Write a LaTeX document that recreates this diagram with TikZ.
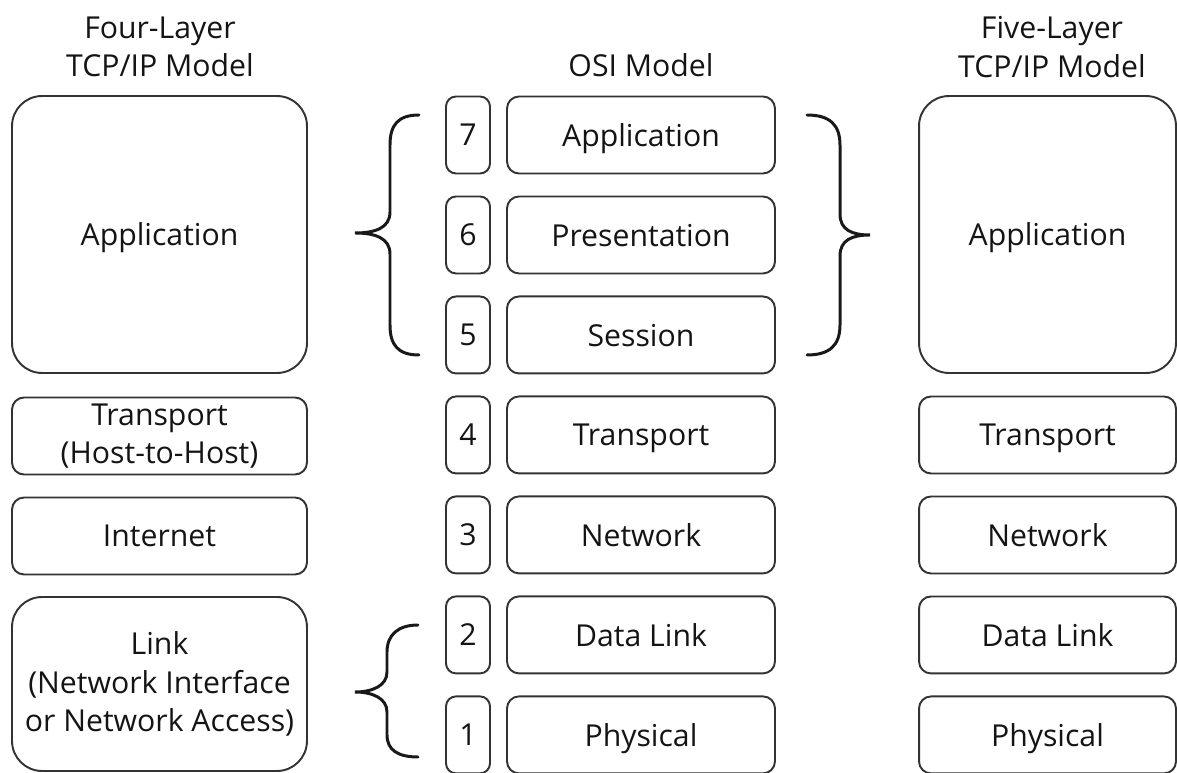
\documentclass[tikz,border=0pt]{standalone}
\usepackage{fontspec}
\setmainfont{Open Sans}
\usetikzlibrary{positioning}

\tikzset{
  layer/.style = {draw=black!80, line width=1.1pt, rounded corners=0.24cm,
                  minimum height=1.54cm, align=center, inner sep=0pt},
  single/.style = {text depth=0pt},
  num/.style   = {layer, single, rounded corners=0.2cm, minimum width=0.88cm},
  osi/.style   = {layer, single, minimum width=5.36cm},
  four/.style  = {layer, minimum width=5.9cm},
  five/.style  = {layer, single, minimum width=5.14cm},
  big/.style   = {rounded corners=0.6cm},
  title/.style = {align=center},
  brace/.style = {draw=black!90, line width=1.7pt, line cap=round},
}

\begin{document}
\begin{tikzpicture} [x=0.02cm, y=-0.02cm, node distance=2cm, on grid,
                     font=\fontsize{17.2}{22}\selectfont, text=black!92]
    \useasboundingbox (0,0) rectangle (1177,773);

    % OSI model
    \node (osititle) [anchor=base] at (641,77) {OSI Model};
    \node (n7) [num] at (468,135) {7};
    \node (n6) [num, below = of n7] {6};
    \node (n5) [num, below = of n6] {5};
    \node (n4) [num, below = of n5] {4};
    \node (n3) [num, below = of n4] {3};
    \node (n2) [num, below = of n3] {2};
    \node (n1) [num, below = of n2] {1};

    \node (osi7) [osi] at (641,135) {Application};
    \node (osi6) [osi, below = of osi7] {Presentation};
    \node (osi5) [osi, below = of osi6] {Session};
    \node (osi4) [osi, below = of osi5] {Transport};
    \node (osi3) [osi, below = of osi4] {Network};
    \node (osi2) [osi, below = of osi3] {Data Link};
    \node (osi1) [osi, below = of osi2] {Physical};

    % four-layer TCP/IP model
    \node (fourtitle) [title] at (160,47) {Four-Layer\\TCP/IP Model};
    \node (fourapp) [four, single, big, minimum height=5.54cm] at (159.5,234.5) {Application};
    \node (fourtrans) [four] at (159.5,436) {Transport\\(Host-to-Host)};
    \node (fourinet) [four, single, below = of fourtrans] {Internet};
    \node (fourlink) [four, big, minimum height=3.48cm] at (159.5,684)
        {Link\\(Network Interface\\or Network Access)};

    % five-layer TCP/IP model
    \node (fivetitle) [title] at (1052,47) {Five-Layer\\TCP/IP Model};
    \node (fiveapp) [five, big, minimum height=5.54cm] at (1047.5,234.5) {Application};
    \node (fivetrans) [five] at (1047.5,435) {Transport};
    \node (fivenet) [five, below = of fivetrans] {Network};
    \node (fivelink) [five, below = of fivenet] {Data Link};
    \node (fivephys) [five, below = of fivelink] {Physical};

    % braces
    \draw [brace] (419,115) .. controls (398,115) and (390,125) .. (390,145)
        -- (390,212) .. controls (390,228) and (375,233) .. (355,233)
        .. controls (375,233) and (390,238) .. (390,254)
        -- (390,325) .. controls (390,345) and (398,355) .. (419,355);
    \draw [brace] (807,115) .. controls (830,115) and (840,125) .. (840,145)
        -- (840,214) .. controls (840,230) and (852,235) .. (870,235)
        .. controls (852,235) and (840,240) .. (840,256)
        -- (840,325) .. controls (840,345) and (830,355) .. (807,355);
    \draw [brace] (418,625) .. controls (398,625) and (387,635) .. (387,652)
        -- (387,672) .. controls (387,686) and (372,692) .. (355,692)
        .. controls (372,692) and (387,698) .. (387,712)
        -- (387,735) .. controls (387,750) and (398,757) .. (418,757);
\end{tikzpicture}
\end{document}
